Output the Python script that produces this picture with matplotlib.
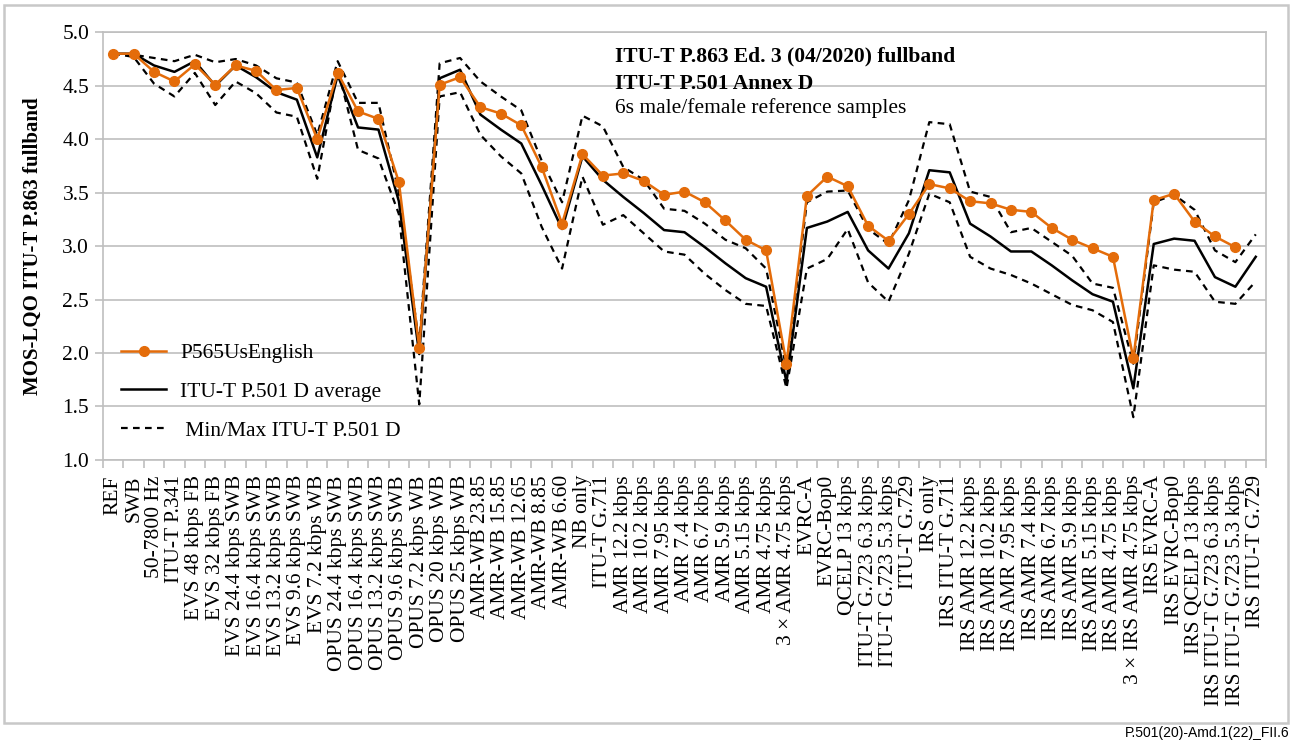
import numpy as np
import matplotlib
matplotlib.use("Agg")
import matplotlib.pyplot as plt
from matplotlib.patches import Rectangle
from matplotlib.lines import Line2D

plt.rcParams['font.family'] = ['Liberation Serif', 'DejaVu Serif']

#------------------------Data-----------------------------
conditions = [
    "REF", "SWB", "50-7800 Hz", "ITU-T P.341", "EVS 48 kbps FB", "EVS 32 kbps FB",
    "EVS 24.4 kbps SWB", "EVS 16.4 kbps SWB", "EVS 13.2 kbps SWB", "EVS 9.6 kbps SWB",
    "EVS 7.2 kbps WB", "OPUS 24.4 kbps SWB", "OPUS 16.4 kbps SWB", "OPUS 13.2 kbps SWB",
    "OPUS 9.6 kbps SWB", "OPUS 7.2 kbps WB", "OPUS 20 kbps WB", "OPUS 25 kbps WB",
    "AMR-WB 23.85", "AMR-WB 15.85", "AMR-WB 12.65", "AMR-WB 8.85", "AMR-WB 6.60",
    "NB only", "ITU-T G.711", "AMR 12.2 kbps", "AMR 10.2 kbps", "AMR 7.95 kbps",
    "AMR 7.4 kbps", "AMR 6.7 kbps", "AMR 5.9 kbps", "AMR 5.15 kbps", "AMR 4.75 kbps",
    "3 \u00d7 AMR 4.75 kbps", "EVRC-A", "EVRC-Bop0", "QCELP 13 kbps",
    "ITU-T G.723 6.3 kbps", "ITU-T G.723 5.3 kbps", "ITU-T G.729", "IRS only",
    "IRS ITU-T G.711", "IRS AMR 12.2 kbps", "IRS AMR 10.2 kbps", "IRS AMR 7.95 kbps",
    "IRS AMR 7.4 kbps", "IRS AMR 6.7 kbps", "IRS AMR 5.9 kbps", "IRS AMR 5.15 kbps",
    "IRS AMR 4.75 kbps", "3 \u00d7 IRS AMR 4.75 kbps", "IRS EVRC-A", "IRS EVRC-Bop0",
    "IRS QCELP 13 kbps", "IRS ITU-T G.723 6.3 kbps", "IRS ITU-T G.723 5.3 kbps",
    "IRS ITU-T G.729",
]

p565_us_english = [
    4.80, 4.80, 4.63, 4.54, 4.70, 4.51, 4.69, 4.64, 4.46, 4.48,
    4.00, 4.62, 4.26, 4.19, 3.60, 2.05, 4.51, 4.58, 4.30, 4.24,
    4.13, 3.74, 3.21, 3.86, 3.66, 3.68, 3.61, 3.48, 3.51, 3.41,
    3.24, 3.06, 2.96, 1.90, 3.47, 3.65, 3.56, 3.19, 3.05, 3.30,
    3.58, 3.54, 3.42, 3.40, 3.34, 3.32, 3.17, 3.06, 2.98, 2.90,
    1.95, 3.43, 3.49, 3.23, 3.09, 2.99, np.nan,
]

p501_average = [
    4.80, 4.80, 4.69, 4.63, 4.73, 4.50, 4.69, 4.58, 4.44, 4.37,
    3.83, 4.60, 4.11, 4.09, 3.42, 1.99, 4.57, 4.65, 4.23, 4.09,
    3.96, 3.57, 3.16, 3.84, 3.62, 3.46, 3.31, 3.15, 3.13, 2.99,
    2.84, 2.70, 2.62, 1.73, 3.17, 3.23, 3.32, 2.96, 2.79, 3.12,
    3.71, 3.69, 3.21, 3.09, 2.95, 2.95, 2.82, 2.68, 2.55, 2.48,
    1.67, 3.02, 3.07, 3.05, 2.71, 2.62, 2.90,
]

p501_max = [
    4.80, 4.79, 4.76, 4.73, 4.79, 4.72, 4.75, 4.69, 4.57, 4.53,
    4.04, 4.73, 4.34, 4.34, 3.50, 2.08, 4.71, 4.76, 4.54, 4.40,
    4.27, 3.80, 3.41, 4.22, 4.12, 3.74, 3.62, 3.35, 3.33, 3.21,
    3.06, 2.98, 2.79, 1.85, 3.41, 3.51, 3.52, 3.16, 3.02, 3.43,
    4.16, 4.14, 3.51, 3.46, 3.13, 3.17, 3.04, 2.91, 2.65, 2.61,
    1.90, 3.41, 3.48, 3.34, 2.96, 2.85, 3.11,
]

p501_min = [
    4.80, 4.77, 4.52, 4.40, 4.62, 4.32, 4.54, 4.43, 4.25, 4.21,
    3.63, 4.66, 3.90, 3.82, 3.30, 1.52, 4.40, 4.44, 4.04, 3.84,
    3.68, 3.18, 2.79, 3.65, 3.20, 3.29, 3.12, 2.95, 2.92, 2.74,
    2.59, 2.46, 2.44, 1.67, 2.79, 2.88, 3.16, 2.66, 2.48, 2.93,
    3.49, 3.41, 2.90, 2.79, 2.73, 2.65, 2.55, 2.45, 2.40, 2.29,
    1.40, 2.82, 2.78, 2.76, 2.48, 2.46, 2.67,
]

#------------------------Plot-----------------------------
orange = '#E46C0A'
grid_col = '#bfbfbf'
dash = (0, (3, 2.4))
fs = 15.5

fig = plt.figure(figsize=(12.91, 7.43), dpi=100)
ax = fig.add_axes([0.0798, 0.381, 0.9008, 0.5755])

x = np.arange(len(conditions))
ax.plot(x, p501_max, color='black', lw=1.6, linestyle=dash)
ax.plot(x, p501_min, color='black', lw=1.6, linestyle=dash)
ax.plot(x, p501_average, color='black', lw=1.8)
ax.plot(x, p565_us_english, color=orange, lw=1.8, marker='o', markersize=7)

ax.set_xlim(-0.5, len(conditions) - 0.5)
ax.set_ylim(1.0, 5.0)
yt = np.arange(1.0, 5.01, 0.5)
ax.set_yticks(yt)
ax.set_yticklabels(['%.1f' % v for v in yt], fontsize=fs)
ax.yaxis.grid(True, color=grid_col, lw=1.2)
ax.set_axisbelow(True)

ax.set_xticks(x)
ax.set_xticklabels(conditions, rotation=90, fontsize=fs, va='top', ha='center')
ax.tick_params(axis='x', which='major', length=0, pad=11)
ax.set_xticks(np.arange(-0.5, len(conditions), 1.0), minor=True)
ax.tick_params(axis='x', which='minor', length=6, color=grid_col, width=1.2)
ax.tick_params(axis='y', length=6, color=grid_col, width=1.2, pad=4)

for s in ax.spines.values():
    s.set_color(grid_col)
    s.set_linewidth(1.2)

ax.set_ylabel('MOS-LQO ITU-T P.863 fullband', fontsize=15, fontweight='bold', labelpad=14)

# legend
handles = [
    Line2D([], [], color=orange, lw=1.8, marker='o', markersize=7),
    Line2D([], [], color='black', lw=1.8),
    Line2D([], [], color='black', lw=1.6, linestyle=dash),
]
ax.legend(handles, ['P565UsEnglish', 'ITU-T P.501 D average', ' Min/Max ITU-T P.501 D'],
          loc='lower left', bbox_to_anchor=(-0.001, 0.0), frameon=False, fontsize=fs,
          handlelength=2.1, labelspacing=0.86, handletextpad=0.65)

ax.text(0.4403, 0.943, 'ITU-T P.863 Ed. 3 (04/2020) fullband', transform=ax.transAxes,
        fontsize=fs, fontweight='bold', va='center', ha='left')
ax.text(0.4403, 0.878, 'ITU-T P.501 Annex D', transform=ax.transAxes,
        fontsize=fs, fontweight='bold', va='center', ha='left')
ax.text(0.4403, 0.824, '6s male/female reference samples', transform=ax.transAxes,
        fontsize=fs, va='center', ha='left')

# outer frame and figure number
fig.patches.append(Rectangle((0.0031, 0.0269), 0.9946, 0.9664, transform=fig.transFigure,
                             fill=False, edgecolor='#c8c8c8', lw=1.8))
fig.text(0.9985, 0.0135, 'P.501(20)-Amd.1(22)_FII.6', ha='right', va='center',
         fontsize=10, family=['Liberation Sans', 'DejaVu Sans'])

plt.savefig('out.png', dpi=100)
